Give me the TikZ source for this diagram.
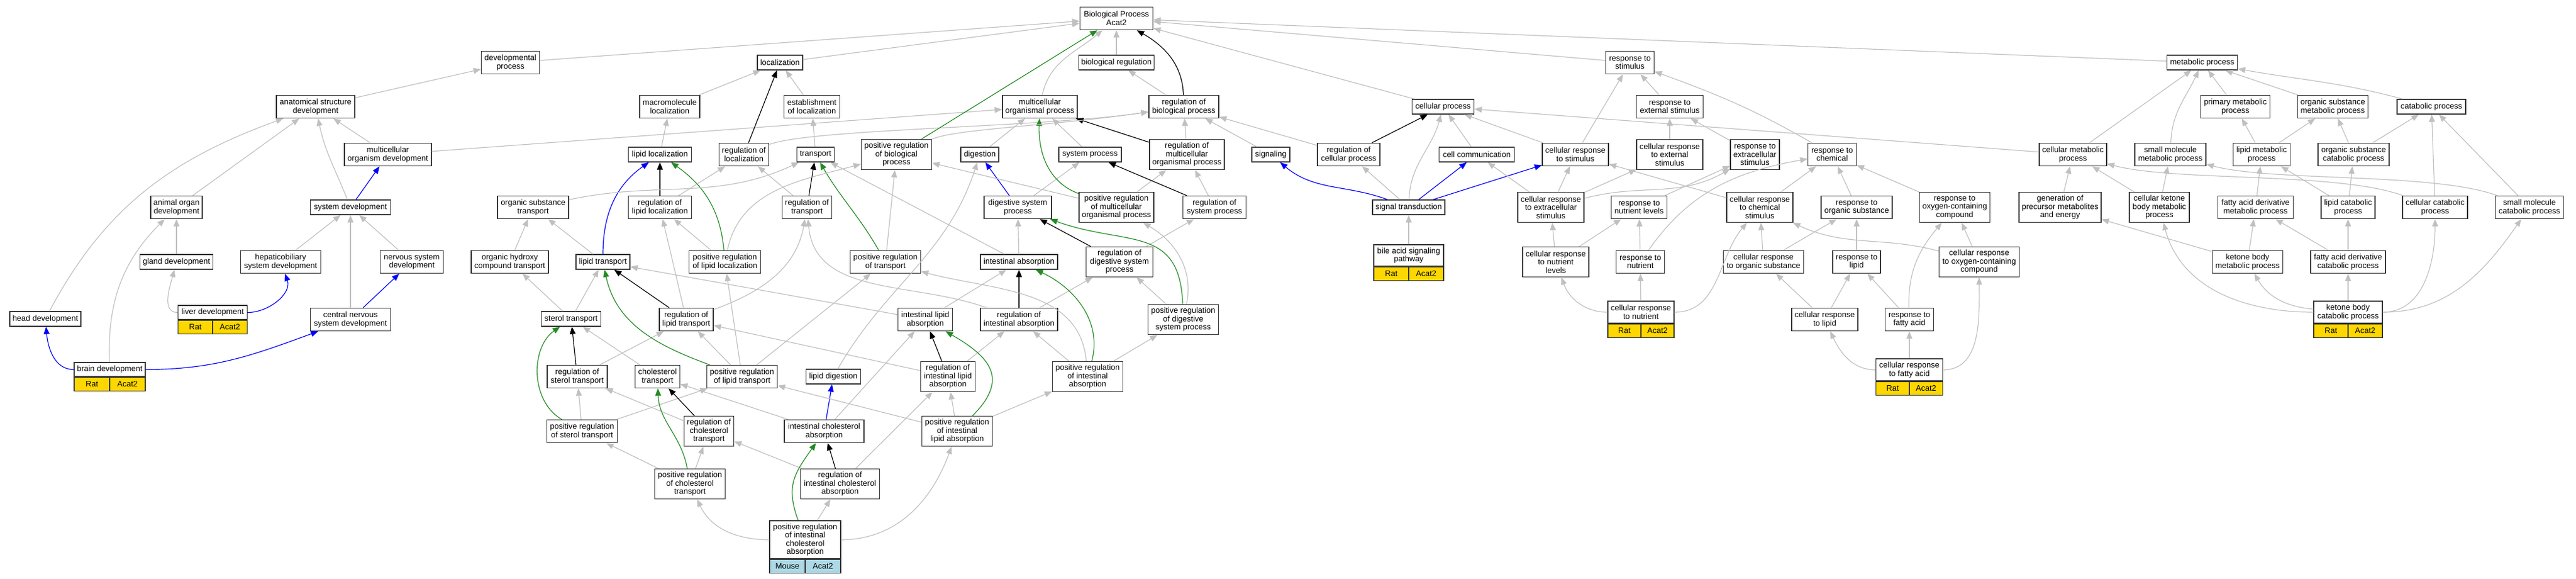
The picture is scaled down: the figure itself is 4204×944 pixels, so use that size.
\documentclass[tikz,border=0pt]{standalone}
\usepackage{fontspec}
\setmainfont{Liberation Sans}
\usetikzlibrary{arrows.meta}
\definecolor{isgray}{RGB}{192,192,192}
\definecolor{posgreen}{RGB}{34,139,34}
\definecolor{ratgold}{RGB}{255,215,0}
\definecolor{mouseblue}{RGB}{173,216,230}
\tikzstyle{term}=[draw=black!80, fill=white, line width=1.4pt, inner sep=0pt, align=center, font=\fontsize{13}{13.5}\selectfont]
\tikzstyle{h1}=[minimum height=24pt]
\tikzstyle{h2}=[minimum height=37pt]
\tikzstyle{h3}=[minimum height=49pt]
\tikzstyle{h4}=[minimum height=62pt]
\tikzstyle{gene}=[term, fill=ratgold, minimum height=22pt]
\tikzstyle{isarrow}=[draw=isgray, line width=1.2pt, -{Triangle[length=12pt,width=9.5pt]}]
\tikzstyle{regarrow}=[isarrow, draw=black]
\tikzstyle{posarrow}=[isarrow, draw=posgreen]
\tikzstyle{partarrow}=[isarrow, draw=blue]

\begin{document}
\begin{tikzpicture}[x=1pt, y=-1pt]
\fill[white] (0,0) rectangle (4204,944);
\useasboundingbox (0,0) rectangle (4204,944);

\node[term, h2, minimum width=119pt] (bp) at (1822,30) {Biological Process\\Acat2};
\node[term, h2, minimum width=95pt] (devproc) at (833,102) {developmental\\process};
\node[term, h1, minimum width=74pt] (loc) at (1273,102) {localization};
\node[term, h1, minimum width=123pt] (bioreg) at (1822,102) {biological regulation};
\node[term, h2, minimum width=79pt] (respstim) at (2660,102) {response to\\stimulus};
\node[term, h1, minimum width=115pt] (metab) at (3594,102) {metabolic process};

\node[term, h2, minimum width=128pt] (asd) at (515,174) {anatomical structure\\development};
\node[term, h2, minimum width=98pt] (macroloc) at (1093,174) {macromolecule\\localization};
\node[term, h2, minimum width=91pt] (estloc) at (1325,174) {establishment\\of localization};
\node[term, h2, minimum width=122pt] (mop) at (1697,174) {multicellular\\organismal process};
\node[term, h2, minimum width=114pt] (regbp) at (1932,174) {regulation of\\biological process};
\node[term, h1, minimum width=101pt] (cellproc) at (2355,174) {cellular process};
\node[term, h2, minimum width=109pt] (respext) at (2725,174) {response to\\external stimulus};
\node[term, h2, minimum width=113pt] (primmet) at (3648,174) {primary metabolic\\process};
\node[term, h2, minimum width=115pt] (orgsubmet) at (3807,174) {organic substance\\metabolic process};
\node[term, h1, minimum width=112pt] (catab) at (3968,174) {catabolic process};

\node[term, h2, minimum width=142pt] (mod) at (633,252) {multicellular\\organism development};
\node[term, h1, minimum width=103pt] (lipidloc) at (1077,252) {lipid localization};
\node[term, h2, minimum width=81pt] (regloc) at (1214,252) {regulation of\\localization};
\node[term, h1, minimum width=61pt] (transport) at (1331,252) {transport};
\node[term, h3, minimum width=115pt] (posregbp) at (1463,252) {positive regulation\\of biological\\process};
\node[term, h1, minimum width=62pt] (digestion) at (1599,252) {digestion};
\node[term, h1, minimum width=102pt] (sysproc) at (1779,252) {system process};
\node[term, h3, minimum width=122pt] (regmop) at (1937,252) {regulation of\\multicellular\\organismal process};
\node[term, h1, minimum width=62pt] (signaling) at (2074,252) {signaling};
\node[term, h2, minimum width=102pt] (regcell) at (2201,252) {regulation of\\cellular process};
\node[term, h1, minimum width=123pt] (cellcomm) at (2410,252) {cell communication};
\node[term, h2, minimum width=108pt] (crstim) at (2571,252) {cellular response\\to stimulus};
\node[term, h3, minimum width=108pt] (crext) at (2725,252) {cellular response\\to external\\stimulus};
\node[term, h3, minimum width=80pt] (rextra) at (2864,252) {response to\\extracellular\\stimulus};
\node[term, h2, minimum width=79pt] (rchem) at (2990,252) {response to\\chemical};
\node[term, h2, minimum width=110pt] (cellmet) at (3383,252) {cellular metabolic\\process};
\node[term, h2, minimum width=116pt] (smmet) at (3542,252) {small molecule\\metabolic process};
\node[term, h2, minimum width=93pt] (lipidmet) at (3691,252) {lipid metabolic\\process};
\node[term, h2, minimum width=116pt] (orgsubcat) at (3841,252) {organic substance\\catabolic process};

\node[term, h2, minimum width=84pt] (animorg) at (288,338) {animal organ\\development};
\node[term, h1, minimum width=131pt] (sysdev) at (572,338) {system development};
\node[term, h2, minimum width=116pt] (orgsubtr) at (870,338) {organic substance\\transport};
\node[term, h2, minimum width=103pt] (reglipidloc) at (1077,338) {regulation of\\lipid localization};
\node[term, h2, minimum width=81pt] (regtr) at (1317,338) {regulation of\\transport};
\node[term, h2, minimum width=110pt] (digsys) at (1661,338) {digestive system\\process};
\node[term, h3, minimum width=122pt] (posregmop) at (1822,338) {positive regulation\\of multicellular\\organismal process};
\node[term, h2, minimum width=103pt] (regsys) at (1982,338) {regulation of\\system process};
\node[term, h1, minimum width=118pt] (sigtr) at (2299,338) {signal transduction};
\node[term, h3, minimum width=108pt] (crextra) at (2531,338) {cellular response\\to extracellular\\stimulus};
\node[term, h2, minimum width=91pt] (rnutlev) at (2675,338) {response to\\nutrient levels};
\node[term, h3, minimum width=108pt] (crchem) at (2872,338) {cellular response\\to chemical\\stimulus};
\node[term, h2, minimum width=116pt] (rorgsub) at (3030,338) {response to\\organic substance};
\node[term, h3, minimum width=115pt] (roxy) at (3190,338) {response to\\oxygen-containing\\compound};
\node[term, h3, minimum width=134pt] (genprec) at (3362,338) {generation of\\precursor metabolites\\and energy};
\node[term, h3, minimum width=98pt] (cketmet) at (3524,338) {cellular ketone\\body metabolic\\process};
\node[term, h2, minimum width=123pt] (fadmet) at (3681,338) {fatty acid derivative\\metabolic process};
\node[term, h2, minimum width=88pt] (lipidcat) at (3832,338) {lipid catabolic\\process};
\node[term, h2, minimum width=106pt] (cellcat) at (3974,338) {cellular catabolic\\process};
\node[term, h2, minimum width=111pt] (smcat) at (4128,338) {small molecule\\catabolic process};

\node[term, h1, minimum width=119pt] (gland) at (288,427) {gland development};
\node[term, h2, minimum width=131pt] (hepato) at (458,427) {hepaticobiliary\\system development};
\node[term, h2, minimum width=103pt] (nervsys) at (672,427) {nervous system\\development};
\node[term, h2, minimum width=126pt] (orghydr) at (832,427) {organic hydroxy\\compound transport};
\node[term, h1, minimum width=88pt] (lipidtr) at (984,427) {lipid transport};
\node[term, h2, minimum width=117pt] (posreglipidloc) at (1183,427) {positive regulation\\of lipid localization};
\node[term, h2, minimum width=115pt] (posregtr) at (1445,427) {positive regulation\\of transport};
\node[term, h1, minimum width=126pt] (intabs) at (1663,427) {intestinal absorption};
\node[term, h3, minimum width=109pt] (regdig) at (1827,427) {regulation of\\digestive system\\process};
\node[term, minimum height=35pt, minimum width=114pt] (bile) at (2299,416.5) {bile acid signaling\\pathway};
\node[term, h3, minimum width=108pt] (crnutlev) at (2539,427) {cellular response\\to nutrient\\levels};
\node[term, h2, minimum width=79pt] (rnut) at (2677,427) {response to\\nutrient};
\node[term, h2, minimum width=131pt] (crorgsub) at (2878,427) {cellular response\\to organic substance};
\node[term, h2, minimum width=78pt] (rlipid) at (3030,427) {response to\\lipid};
\node[term, h3, minimum width=131pt] (croxy) at (3230,427) {cellular response\\to oxygen-containing\\compound};
\node[term, h2, minimum width=115pt] (ketmet) at (3668,427) {ketone body\\metabolic process};
\node[term, h2, minimum width=122pt] (fadcat) at (3832,427) {fatty acid derivative\\catabolic process};

\node[term, h1, minimum width=116pt] (head) at (74,520) {head development};
\node[term, minimum height=23pt, minimum width=113pt] (liver) at (347,509.5) {liver development};
\node[term, h2, minimum width=131pt] (cns) at (572,521) {central nervous\\system development};
\node[term, h1, minimum width=97pt] (steroltr) at (932,520) {sterol transport};
\node[term, h2, minimum width=88pt] (reglipidtr) at (1120,521) {regulation of\\lipid transport};
\node[term, h2, minimum width=89pt] (intlipabs) at (1510,521) {intestinal lipid\\absorption};
\node[term, h2, minimum width=126pt] (regintabs) at (1663,521) {regulation of\\intestinal absorption};
\node[term, h3, minimum width=115pt] (posregdig) at (1931,521) {positive regulation\\of digestive\\system process};
\node[term, minimum height=36pt, minimum width=108pt] (crnut) at (2678,509) {cellular response\\to nutrient};
\node[term, h2, minimum width=108pt] (crlipid) at (2978,521) {cellular response\\to lipid};
\node[term, h2, minimum width=79pt] (rfatty) at (3116,521) {response to\\fatty acid};
\node[term, minimum height=36pt, minimum width=112pt] (ketcat) at (3832,509) {ketone body\\catabolic process};

\node[term, minimum height=23pt, minimum width=116pt] (brain) at (179,602.5) {brain development};
\node[term, h2, minimum width=98pt] (regsteroltr) at (942,614) {regulation of\\sterol transport};
\node[term, h2, minimum width=73pt] (choltr) at (1073,614) {cholesterol\\transport};
\node[term, h2, minimum width=115pt] (posreglipidtr) at (1211,614) {positive regulation\\of lipid transport};
\node[term, h1, minimum width=89pt] (lipiddig) at (1360,614) {lipid digestion};
\node[term, h3, minimum width=89pt] (regintlipabs) at (1547,614) {regulation of\\intestinal lipid\\absorption};
\node[term, h3, minimum width=115pt] (posregintabs) at (1775,614) {positive regulation\\of intestinal\\absorption};
\node[term, minimum height=36pt, minimum width=109pt] (crfatty) at (3116,603) {cellular response\\to fatty acid};

\node[term, h2, minimum width=115pt] (posregsteroltr) at (950,703) {positive regulation\\of sterol transport};
\node[term, h3, minimum width=81pt] (regcholtr) at (1157,703) {regulation of\\cholesterol\\transport};
\node[term, h2, minimum width=130pt] (intcholabs) at (1345,703) {intestinal cholesterol\\absorption};
\node[term, h3, minimum width=115pt] (posregintlipabs) at (1562,703) {positive regulation\\of intestinal\\lipid absorption};

\node[term, h3, minimum width=115pt] (posregcholtr) at (1126,789) {positive regulation\\of cholesterol\\transport};
\node[term, h3, minimum width=129pt] (regintcholabs) at (1371,789) {regulation of\\intestinal cholesterol\\absorption};
\node[term, h4, minimum width=116pt] (posregintcholabs) at (1314,880) {positive regulation\\of intestinal\\cholesterol\\absorption};

\node[gene, minimum width=58pt, anchor=north west] (brainrat) at (brain.south west) {Rat};
\node[gene, minimum width=58pt, anchor=north east] (brainacat) at (brain.south east) {Acat2};
\node[gene, minimum width=56.5pt, anchor=north west] (liverrat) at (liver.south west) {Rat};
\node[gene, minimum width=56.5pt, anchor=north east] (liveracat) at (liver.south east) {Acat2};
\node[gene, minimum width=57pt, anchor=north west] (bilerat) at (bile.south west) {Rat};
\node[gene, minimum width=57pt, anchor=north east] (bileacat) at (bile.south east) {Acat2};
\node[gene, minimum width=54pt, anchor=north west] (crnutrat) at (crnut.south west) {Rat};
\node[gene, minimum width=54pt, anchor=north east] (crnutacat) at (crnut.south east) {Acat2};
\node[gene, minimum width=54.5pt, anchor=north west] (crfattyrat) at (crfatty.south west) {Rat};
\node[gene, minimum width=54.5pt, anchor=north east] (crfattyacat) at (crfatty.south east) {Acat2};
\node[gene, minimum width=56pt, anchor=north west] (ketcatrat) at (ketcat.south west) {Rat};
\node[gene, minimum width=56pt, anchor=north east] (ketcatacat) at (ketcat.south east) {Acat2};
\node[gene, fill=mouseblue, minimum width=58pt, anchor=north west] (prica) at (posregintcholabs.south west) {Mouse};
\node[gene, fill=mouseblue, minimum width=58pt, anchor=north east] (pricaacat) at (posregintcholabs.south east) {Acat2};

\draw[isarrow] (asd) -- (devproc);
\draw[isarrow] (devproc) -- (bp);
\draw[isarrow] (head) to[out=62,in=200] (asd);
\draw[isarrow] (animorg) -- (asd);
\draw[isarrow] (sysdev) to[out=112,in=-78] (asd);
\draw[isarrow] (mod) -- (asd);
\draw[partarrow] (sysdev) -- (mod);
\draw[isarrow] (mod) -- (mop);
\draw[isarrow] (gland) -- (animorg);
\draw[isarrow] (brain) to[out=92,in=225] (animorg);
\draw[isarrow] (liver) to[out=180,in=-105] (gland);
\draw[partarrow] (liver) to[out=0,in=-70] (hepato);
\draw[isarrow] (hepato) -- (sysdev);
\draw[isarrow] (cns) -- (sysdev);
\draw[isarrow] (nervsys) -- (sysdev);
\draw[partarrow] (cns) -- (nervsys);
\draw[partarrow] (brain) to[out=180,in=-85] (head);
\draw[partarrow] (brain) to[out=0,in=200] (cns);

\draw[isarrow] (loc) -- (bp);
\draw[isarrow] (macroloc) -- (loc);
\draw[regarrow] (regloc) -- (loc);
\draw[isarrow] (estloc) -- (loc);
\draw[isarrow] (lipidloc) -- (macroloc);
\draw[isarrow] (transport) -- (estloc);
\draw[regarrow] (reglipidloc) -- (lipidloc);
\draw[partarrow] (lipidtr) to[out=90,in=215] (lipidloc);
\draw[posarrow] (posreglipidloc) to[out=95,in=-35] (lipidloc);
\draw[isarrow] (reglipidloc) -- (regloc);
\draw[isarrow] (regtr) -- (regloc);
\draw[regarrow] (regtr) -- (transport);
\draw[posarrow] (posregtr) to[out=120,in=-60] (transport);
\draw[isarrow] (orgsubtr) to[out=12,in=205] (transport);
\draw[isarrow] (regloc) .. controls (1320,210) and (1700,208) .. (regbp);
\draw[isarrow] (posreglipidloc) to[out=78,in=195] (posregbp);
\draw[isarrow] (posreglipidloc) -- (reglipidloc);
\draw[isarrow] (lipidtr) -- (orgsubtr);
\draw[isarrow] (orghydr) -- (orgsubtr);
\draw[regarrow] (reglipidtr) -- (lipidtr);
\draw[isarrow] (reglipidtr) -- (reglipidloc);
\draw[isarrow] (reglipidtr) to[out=20,in=-100] (regtr);
\draw[isarrow] (steroltr) -- (orghydr);
\draw[isarrow] (steroltr) -- (lipidtr);
\draw[regarrow] (regsteroltr) -- (steroltr);
\draw[isarrow] (regsteroltr) -- (reglipidtr);
\draw[isarrow] (choltr) -- (steroltr);
\draw[posarrow] (posregsteroltr) to[out=150,in=215] (steroltr);
\draw[isarrow] (posregsteroltr) -- (regsteroltr);
\draw[isarrow] (posregsteroltr) -- (posreglipidtr);
\draw[isarrow] (posreglipidtr) -- (reglipidtr);
\draw[isarrow] (posreglipidtr) -- (posreglipidloc);
\draw[isarrow] (posreglipidtr) -- (posregtr);
\draw[posarrow] (posreglipidtr) to[out=160,in=-78] (lipidtr);
\draw[regarrow] (regcholtr) -- (choltr);
\draw[isarrow] (regcholtr) -- (regsteroltr);
\draw[posarrow] (posregcholtr) to[out=100,in=-88] (choltr);
\draw[isarrow] (posregcholtr) -- (regcholtr);
\draw[isarrow] (posregcholtr) -- (posregsteroltr);
\draw[partarrow] (intcholabs) -- (lipiddig);
\draw[isarrow] (intcholabs) -- (choltr);
\draw[isarrow] (intcholabs) -- (intlipabs);
\draw[regarrow] (regintcholabs) -- (intcholabs);
\draw[isarrow] (regintcholabs) -- (regcholtr);
\draw[isarrow] (regintcholabs) -- (regintlipabs);
\draw[posarrow] (posregintcholabs) to[out=110,in=-125,looseness=1.2] (intcholabs);
\draw[isarrow] (posregintcholabs) -- (regintcholabs);
\draw[isarrow] (posregintcholabs) to[out=180,in=-65] (posregcholtr);
\draw[isarrow] (posregintcholabs) to[out=0,in=-110] (posregintlipabs);
\draw[isarrow] (lipiddig) to[out=60,in=-108] (digestion);

\draw[isarrow] (intlipabs) -- (lipidtr);
\draw[isarrow] (intlipabs) -- (intabs);
\draw[regarrow] (regintlipabs) -- (intlipabs);
\draw[isarrow] (regintlipabs) -- (regintabs);
\draw[isarrow] (regintlipabs) -- (reglipidtr);
\draw[posarrow] (posregintlipabs) to[out=45,in=-30,looseness=1.5] (intlipabs);
\draw[isarrow] (posregintlipabs) -- (regintlipabs);
\draw[isarrow] (posregintlipabs) -- (posregintabs);
\draw[isarrow] (posregintlipabs) -- (posreglipidtr);
\draw[isarrow] (intabs) -- (digsys);
\draw[isarrow] (intabs) -- (transport);
\draw[regarrow] (regintabs) -- (intabs);
\draw[isarrow] (regintabs) -- (regdig);
\draw[isarrow] (regintabs) to[out=160,in=-85] (regtr);
\draw[posarrow] (posregintabs) to[out=75,in=-25] (intabs);
\draw[isarrow] (posregintabs) -- (regintabs);
\draw[isarrow] (posregintabs) -- (posregdig);
\draw[isarrow] (posregintabs) to[out=95,in=-15] (posregtr);
\draw[partarrow] (digsys) -- (digestion);
\draw[isarrow] (digsys) -- (sysproc);
\draw[regarrow] (regdig) -- (digsys);
\draw[isarrow] (regdig) -- (regsys);
\draw[posarrow] (posregdig) to[out=92,in=-20,looseness=1.3] (digsys);
\draw[isarrow] (posregdig) -- (regdig);
\draw[isarrow] (posregdig) to[out=78,in=-30] (posregmop);
\draw[isarrow] (digestion) -- (mop);
\draw[isarrow] (sysproc) -- (mop);
\draw[posarrow] (posregmop) to[out=160,in=-92] (mop);
\draw[isarrow] (posregmop) -- (regmop);
\draw[isarrow] (posregmop) -- (posregbp);
\draw[regarrow] (regsys) -- (sysproc);
\draw[isarrow] (regsys) -- (regmop);
\draw[regarrow] (regmop) -- (mop);
\draw[isarrow] (regmop) -- (regbp);
\draw[isarrow] (mop) to[out=78,in=-140] (bp);
\draw[isarrow] (bioreg) -- (bp);
\draw[regarrow] (regbp) to[out=92,in=-30] (bp);
\draw[isarrow] (regbp) -- (bioreg);
\draw[posarrow] (posregbp) -- (bp);
\draw[isarrow] (posregbp) .. controls (1560,210) and (1720,205) .. (regbp);
\draw[isarrow] (posregtr) -- (posregbp);

\draw[isarrow] (signaling) -- (regbp);
\draw[isarrow] (regcell) -- (regbp);
\draw[regarrow] (regcell) -- (cellproc);
\draw[partarrow] (sigtr) to[out=160,in=-40] (signaling);
\draw[isarrow] (sigtr) -- (regcell);
\draw[isarrow] (sigtr) to[out=88,in=-105] (cellproc);
\draw[partarrow] (sigtr) -- (cellcomm);
\draw[partarrow] (sigtr) -- (crstim);
\draw[isarrow] (bile) -- (sigtr);
\draw[isarrow] (cellcomm) -- (cellproc);
\draw[isarrow] (crstim) -- (cellproc);
\draw[isarrow] (crstim) -- (respstim);
\draw[isarrow] (cellproc) -- (bp);
\draw[isarrow] (respstim) -- (bp);
\draw[isarrow] (metab) -- (bp);
\draw[isarrow] (cellmet) -- (cellproc);
\draw[isarrow] (cellmet) -- (metab);

\draw[isarrow] (respext) -- (respstim);
\draw[isarrow] (crext) -- (respext);
\draw[isarrow] (crchem) -- (crstim);
\draw[isarrow] (crextra) -- (crstim);
\draw[isarrow] (crextra) -- (cellcomm);
\draw[isarrow] (crextra) -- (crext);
\draw[isarrow] (crextra) to[out=15,in=-150] (rextra);
\draw[isarrow] (rextra) -- (respext);
\draw[isarrow] (rnutlev) -- (rextra);
\draw[isarrow] (crnutlev) -- (crextra);
\draw[isarrow] (crnutlev) -- (rnutlev);
\draw[isarrow] (rnut) -- (rnutlev);
\draw[isarrow] (rnut) to[out=55,in=-170] (rchem);
\draw[isarrow] (crnut) to[out=180,in=-70] (crnutlev);
\draw[isarrow] (crnut) -- (rnut);
\draw[isarrow] (crnut) to[out=0,in=-130] (crchem);
\draw[isarrow] (rchem) to[out=150,in=-20] (respstim);
\draw[isarrow] (crchem) -- (rchem);
\draw[isarrow] (rorgsub) -- (rchem);
\draw[isarrow] (roxy) -- (rchem);
\draw[isarrow] (crorgsub) -- (crchem);
\draw[isarrow] (crorgsub) -- (rorgsub);
\draw[isarrow] (rlipid) -- (rorgsub);
\draw[isarrow] (croxy) -- (roxy);
\draw[isarrow] (croxy) to[out=165,in=-25] (crchem);
\draw[isarrow] (crlipid) -- (crorgsub);
\draw[isarrow] (crlipid) -- (rlipid);
\draw[isarrow] (rfatty) -- (rlipid);
\draw[isarrow] (rfatty) to[out=92,in=-130] (roxy);
\draw[isarrow] (crfatty) to[out=180,in=-65] (crlipid);
\draw[isarrow] (crfatty) -- (rfatty);
\draw[isarrow] (crfatty) to[out=0,in=-90] (croxy);

\draw[isarrow] (primmet) -- (metab);
\draw[isarrow] (orgsubmet) -- (metab);
\draw[isarrow] (catab) to[out=165,in=-10] (metab);
\draw[isarrow] (smmet) to[out=88,in=-115] (metab);
\draw[isarrow] (lipidmet) -- (primmet);
\draw[isarrow] (lipidmet) -- (orgsubmet);
\draw[isarrow] (orgsubcat) -- (orgsubmet);
\draw[isarrow] (orgsubcat) -- (catab);
\draw[isarrow] (fadmet) -- (lipidmet);
\draw[isarrow] (lipidcat) -- (lipidmet);
\draw[isarrow] (lipidcat) -- (orgsubcat);
\draw[isarrow] (cellcat) -- (catab);
\draw[isarrow] (cellcat) to[out=160,in=-15,looseness=0.6] (cellmet);
\draw[isarrow] (smcat) to[out=160,in=-15,looseness=0.6] (smmet);
\draw[isarrow] (smcat) -- (catab);
\draw[isarrow] (cketmet) -- (smmet);
\draw[isarrow] (cketmet) -- (cellmet);
\draw[isarrow] (genprec) -- (cellmet);
\draw[isarrow] (ketmet) -- (genprec);
\draw[isarrow] (ketmet) -- (fadmet);
\draw[isarrow] (fadcat) -- (fadmet);
\draw[isarrow] (fadcat) -- (lipidcat);
\draw[isarrow] (ketcat) to[out=180,in=-75] (cketmet);
\draw[isarrow] (ketcat) to[out=175,in=-60] (ketmet);
\draw[isarrow] (ketcat) -- (fadcat);
\draw[isarrow] (ketcat) to[out=0,in=-90] (cellcat);
\draw[isarrow] (ketcat) to[out=0,in=-125] (smcat);
\end{tikzpicture}
\end{document}
